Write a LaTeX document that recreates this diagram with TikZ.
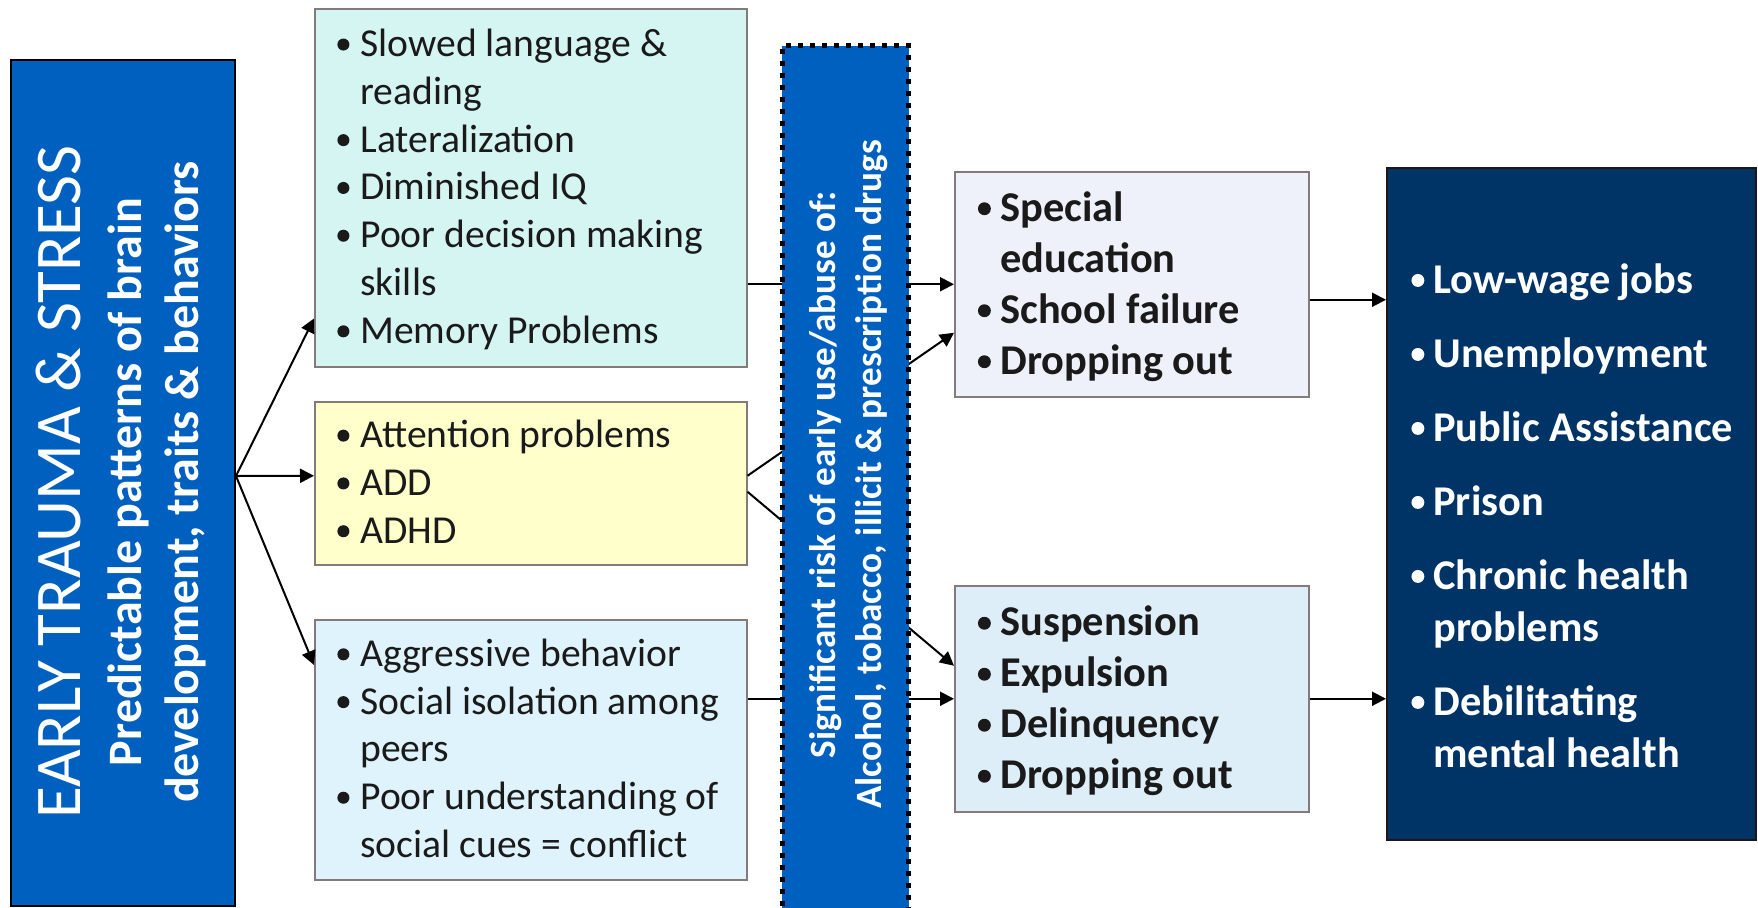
\documentclass[tikz,border=0pt]{standalone}
\usepackage{fontspec}
\setmainfont{Carlito}
\usetikzlibrary{arrows.meta}
\definecolor{lblue}{HTML}{0060C0}
\definecolor{tealc}{HTML}{D5F5F3}
\definecolor{yelc}{HTML}{FFFFCC}
\definecolor{skyc}{HTML}{DFF3FD}
\definecolor{lavc}{HTML}{EEF0FA}
\definecolor{paleb}{HTML}{DDEEF8}
\definecolor{navyc}{HTML}{003366}
\definecolor{bordc}{HTML}{857A7A}
\definecolor{txt}{HTML}{1A1A1A}
\newcommand\bdot{\tikz[baseline=0pt]\fill (0pt,0.3em) circle[radius=0.152em];}
\newcommand\bul[1]{\makebox[#1][c]{\bdot}}
\begin{document}
\begin{tikzpicture}[x=0.5pt,y=-0.5pt,
  box/.style={draw=bordc, line width=0.75pt, anchor=north west, inner sep=0pt},
  reg/.style={anchor=west, inner sep=0pt, align=left, text=txt, yshift=-1.25pt, font=\fontsize{19.8}{23.9}\selectfont},
  bld/.style={anchor=west, inner sep=0pt, align=left, text=txt, yshift=-1.75pt, font=\fontsize{21.2}{25.5}\selectfont\bfseries},
  arr/.style={line width=1pt, -{Triangle[length=7pt,width=7pt]}},
]
\useasboundingbox (0,0) rectangle (1758,907);

% boxes
\node[box, draw=black, line width=1pt, fill=lblue, minimum width=112pt, minimum height=423pt] (L) at (10,59) {};
\node[box, fill=tealc, minimum width=216pt, minimum height=179pt] (B1) at (314,8) {};
\node[box, fill=yelc, minimum width=216pt, minimum height=81.5pt] (B2) at (314,401) {};
\node[box, fill=skyc, minimum width=216pt, minimum height=130pt] (B3) at (314,619) {};
\node[box, fill=lavc, minimum width=177pt, minimum height=112.5pt] (S1) at (954,171) {};
\node[box, fill=paleb, minimum width=177pt, minimum height=113pt] (S2) at (954,585) {};
\node[box, draw=black!80!bordc, fill=navyc, minimum width=184.5pt, minimum height=336pt] (F) at (1386,167) {};

% left box texts
\node[rotate=90, anchor=base, inner sep=0pt, text=white, font=\fontsize{32.6}{38}\selectfont] (Lt1) at (80,482) {EARLY TRAUMA \& STRESS};
\node[rotate=90, anchor=base, inner sep=0pt, text=white, font=\fontsize{24}{28}\selectfont\bfseries] (Lt2) at (141,482) {Predictable patterns of brain};
\node[rotate=90, anchor=base, inner sep=0pt, text=white, font=\fontsize{24}{28}\selectfont\bfseries] (Lt3) at (198,482) {development, traits \& behaviors};

% box texts
\node[reg] (t1) at ([xshift=6pt]B1.west) {\begin{tabular}{@{}l@{}l@{}}
\bul{17pt}&Slowed language \&\\
&reading\\
\bul{17pt}&Lateralization\\
\bul{17pt}&Diminished IQ\\
\bul{17pt}&Poor decision making\\
&skills\\
\bul{17pt}&Memory Problems
\end{tabular}};
\node[reg] (t2) at ([xshift=6pt]B2.west) {\begin{tabular}{@{}l@{}l@{}}
\bul{17pt}&Attention problems\\
\bul{17pt}&ADD\\
\bul{17pt}&ADHD
\end{tabular}};
\node[reg] (t3) at ([xshift=6pt]B3.west) {\begin{tabular}{@{}l@{}l@{}}
\bul{17pt}&Aggressive behavior\\
\bul{17pt}&Social isolation among\\
&peers\\
\bul{17pt}&Poor understanding of\\
&social cues = conflict
\end{tabular}};
\node[bld] (t4) at ([xshift=7pt]S1.west) {\begin{tabular}{@{}l@{}l@{}}
\bul{16pt}&Special\\
&education\\
\bul{16pt}&School failure\\
\bul{16pt}&Dropping out
\end{tabular}};
\node[bld] (t5) at ([xshift=7pt]S2.west) {\begin{tabular}{@{}l@{}l@{}}
\bul{16pt}&Suspension\\
\bul{16pt}&Expulsion\\
\bul{16pt}&Delinquency\\
\bul{16pt}&Dropping out
\end{tabular}};
\node[bld, text=white, font=\fontsize{21.2}{26}\selectfont\bfseries] (t6) at ([xshift=8pt,yshift=-6.25pt]F.west) {\begin{tabular}{@{}l@{}l@{}}
\bul{15.5pt}&Low-wage jobs\\[11pt]
\bul{15.5pt}&Unemployment\\[11pt]
\bul{15.5pt}&Public Assistance\\[11pt]
\bul{15.5pt}&Prison\\[11pt]
\bul{15.5pt}&Chronic health\\
&problems\\[11pt]
\bul{15.5pt}&Debilitating\\
&mental health
\end{tabular}};

% connectors
\draw[arr] ([yshift=3.5pt]L.east) -- ([yshift=24.5pt]B1.south west);
\draw[arr] ([yshift=3.5pt]L.east) -- ([yshift=3.75pt]B2.west);
\draw[arr] ([yshift=3.5pt]L.east) -- ([yshift=-23pt]B3.north west);
\draw[arr] (B1.east |- S1.west) -- (S1.west);
\draw[arr] ([yshift=3.75pt]B2.east) -- ([yshift=-24.25pt]S1.west);
\draw[arr] ([yshift=-4.25pt]B2.east) -- ([yshift=16.5pt]S2.west);
\draw[arr] (B3.east |- S2.west) -- (S2.west);
\coordinate (s1o) at ([yshift=-7.75pt]S1.east);
\draw[arr] (s1o) -- (s1o -| F.west);
\draw[arr] (S2.east) -- (S2.east -| F.west);

% dotted substance box (drawn over the connectors)
\node[box, draw=black, line width=2.5pt, dash pattern=on 2.5pt off 3.5pt, fill=lblue, minimum width=63.2pt, minimum height=436pt] (D) at (779.6,43) {};
\node[rotate=90, anchor=base, inner sep=0pt, text=white, font=\fontsize{18.55}{23}\selectfont\bfseries] (Dt1) at (835,474.5) {Significant risk of early use/abuse of:};
\node[rotate=90, anchor=base, inner sep=0pt, text=white, font=\fontsize{18.55}{23}\selectfont\bfseries] (Dt2) at (881,474.5) {Alcohol, tobacco, illicit \& prescription drugs};
\end{tikzpicture}
\end{document}
